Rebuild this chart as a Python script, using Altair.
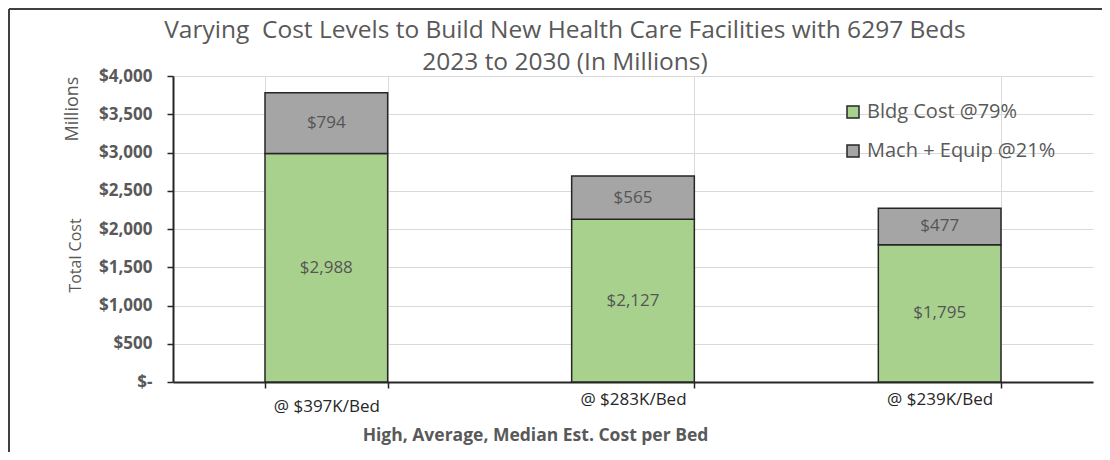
import altair as alt
import pandas as pd

categories = ["@ $397K/Bed", "@ $283K/Bed", "@ $239K/Bed"]
series = ["Bldg Cost @79%", "Mach + Equip @21%"]
bldg_cost = [2988, 2127, 1795]
mach_equip = [794, 565, 477]
y_ticks = [0, 500, 1000, 1500, 2000, 2500, 3000, 3500, 4000]
title_lines = ["Varying\u00a0\u00a0Cost Levels to Build New Health Care Facilities with 6297 Beds",
               "2023 to 2030 (In Millions)"]

rows = []
for i, c in enumerate(categories):
    rows.append({"cat": c, "series": series[0], "order": 0, "value": bldg_cost[i]})
    rows.append({"cat": c, "series": series[1], "order": 1, "value": mach_equip[i]})
df = pd.DataFrame(rows)

FONT = "Open Sans"
GREY = "#595959"

x_axis = alt.Axis(
    title="High, Average, Median Est. Cost per Bed",
    titleFont=FONT, titleFontSize=17.5, titleFontWeight="bold", titleColor=GREY,
    titleX=362, titleY=53, titleBaseline="middle", titleAnchor="start", titleAlign="center",
    labelFont=FONT, labelFontSize=17, labelColor="#262626", labelAngle=0,
    labelPadding=alt.condition("datum.value == '@ $397K/Bed'", alt.value(10), alt.value(3)),
    domainColor="#262626", domainWidth=2,
    tickBand="extent", tickColor="#262626", tickWidth=1.5, tickSize=6,
    grid=True, gridColor="#d9d9d9", gridWidth=1,
)
x_scale = alt.Scale(paddingInner=0.6, paddingOuter=0.3)

y_axis = alt.Axis(
    values=y_ticks, labelOverlap=False,
    labelExpr="datum.value == 0 ? '$-\u00a0\u00a0\u00a0' : '$' + format(datum.value, ',')",
    labelFont=FONT, labelFontSize=17, labelFontWeight="bold", labelColor=GREY, labelPadding=15,
    title="Total Cost", titleFont=FONT, titleFontSize=16, titleFontWeight="normal", titleColor=GREY,
    titleX=-98, titleY=179, titleAngle=270, titleAlign="center", titleBaseline="middle",
    domainColor="#262626", domainWidth=2,
    tickColor="#262626", tickWidth=1.5, tickSize=6,
    grid=True, gridColor="#d9d9d9", gridWidth=1,
)
y_scale = alt.Scale(domain=[0, 4000], nice=False)

base = alt.Chart(df).transform_stack(
    stack="value", groupby=["cat"], as_=["y0", "y1"], sort=[alt.SortField("order")]
).transform_calculate(mid="(datum.y0 + datum.y1) / 2")

bars = base.mark_bar(stroke="#262626", strokeWidth=1.5).encode(
    x=alt.X("cat:N", sort=categories, scale=x_scale, axis=x_axis),
    y=alt.Y("y0:Q", scale=y_scale, axis=y_axis),
    y2="y1:Q",
    color=alt.Color(
        "series:N",
        scale=alt.Scale(domain=series, range=["#a9d18e", "#a5a5a5"]),
        legend=alt.Legend(
            title=None, orient="none", legendX=670, legendY=26,
            symbolType="square", symbolSize=144, symbolStrokeColor="#262626", symbolStrokeWidth=1.5,
            labelFont=FONT, labelFontSize=20, labelColor=GREY, labelOffset=4, rowPadding=19,
            labelLimit=400,
        ),
    ),
    order=alt.Order("order:Q"),
)

labels = base.mark_text(font=FONT, fontSize=17, color="#555555").encode(
    x=alt.X("cat:N", sort=categories, scale=x_scale, axis=x_axis),
    y=alt.Y("mid:Q", scale=y_scale, axis=y_axis),
    text=alt.Text("value:Q", format="$,.0f"),
)

millions = alt.Chart(pd.DataFrame({"t": ["Millions"]})).mark_text(
    font=FONT, fontSize=18, color=GREY, angle=270, baseline="middle", align="center"
).encode(x=alt.value(-100), y=alt.value(33), text="t:N")

title1 = alt.Chart(pd.DataFrame({"t": title_lines[:1]})).mark_text(
    font=FONT, fontSize=24.5, color=GREY, baseline="middle", align="center"
).encode(x=alt.value(392), y=alt.value(-45), text="t:N")
title2 = alt.Chart(pd.DataFrame({"t": title_lines[1:]})).mark_text(
    font=FONT, fontSize=24.5, color=GREY, baseline="middle", align="center"
).encode(x=alt.value(392), y=alt.value(-13), text="t:N")

border_left = alt.Chart(pd.DataFrame({"t": [0]})).mark_rule(color="#404040", strokeWidth=2).encode(
    x=alt.value(-164), y=alt.value(-67), y2=alt.value(420))
border_top = alt.Chart(pd.DataFrame({"t": [0]})).mark_rule(color="#404040", strokeWidth=2).encode(
    x=alt.value(-164), x2=alt.value(960), y=alt.value(-67))

chart = alt.layer(border_left, border_top, bars, labels, millions, title1, title2).properties(
    width=920,
    height=306,
    padding={"left": 165, "top": 68, "right": 9, "bottom": 70},
    autosize=alt.AutoSizeParams(type="none"),
).configure_view(stroke=None)

chart.save("out.html", embed_options={"renderer": "svg", "actions": False})
